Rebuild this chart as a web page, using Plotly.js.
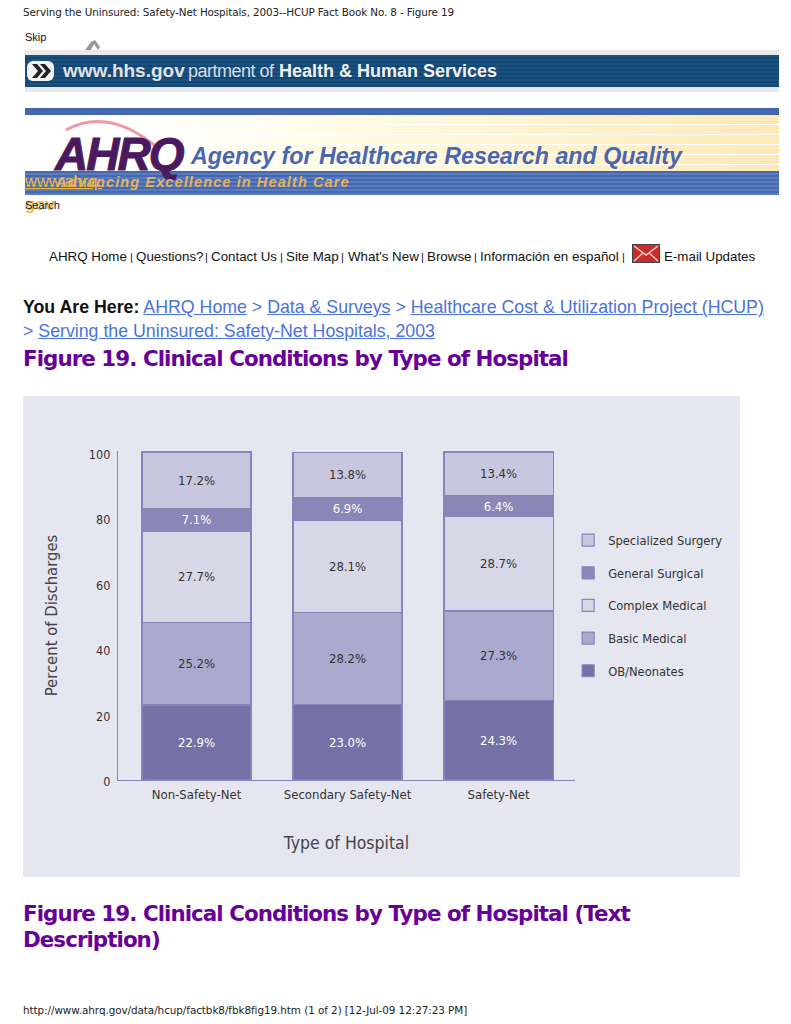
<!DOCTYPE html>
<html><head><meta charset="utf-8">
<script src="https://cdn.plot.ly/plotly-3.0.1.min.js"></script>
<style>
html,body{margin:0;padding:0;background:#fff;width:791px;height:1024px;overflow:hidden}
.t{position:absolute;white-space:nowrap;line-height:1}
.v{font-family:"DejaVu Sans",sans-serif;color:#222}
.a{font-family:"Liberation Sans",Arial,sans-serif;color:#111}
.n{font-size:13.35px;top:250px}
.p{font-size:11px;top:252px}
.b{position:absolute}
a,.l{color:#4a72e0}
a{text-decoration:underline}
.h{font-family:"DejaVu Sans",sans-serif;font-weight:bold;color:#660099;font-size:21.4px;letter-spacing:-.95px}
</style></head><body>
<div class="t v" style="left:23px;top:7px;font-size:10.4px;letter-spacing:-.12px">Serving the Uninsured: Safety-Net Hospitals, 2003--HCUP Fact Book No. 8 - Figure 19</div>
<div class="t a" style="left:25px;top:32px;font-size:11px">Skip</div>
<svg class="b" style="left:83px;top:39px" width="20" height="12"><path d="M2 11 L8 3 L12 1 L17 8 L15 11 L11 5 L8 11Z" fill="#999"/></svg>
<div class="b" style="left:25px;top:50px;width:754px;height:42px;background:#e9e9e9"></div>
<div class="b" style="left:25px;top:55px;width:754px;height:32px;background:repeating-linear-gradient(#1a5282 0 2px,#134673 2px 4px)"></div>
<svg class="b" style="left:27px;top:60px" width="28" height="22"><rect x="0" y="1" width="27" height="20" rx="6" fill="#f2f2f2"/><path d="M5 4h5l6 7-6 7H5l6-7zM13 4h5l6 7-6 7h-5l6-7z" fill="#222"/></svg>
<div class="t a" style="left:63px;top:61px;font-size:19px;font-weight:bold;color:#e2e2e2">www.hhs.gov</div>
<div class="t a" style="left:188px;top:62px;font-size:18px;color:#d8dde4;letter-spacing:-.5px">partment of</div>
<div class="t a" style="left:279px;top:62px;font-size:18px;font-weight:bold;color:#f1f1f1">Health &amp; Human Services</div>
<div class="b" style="left:25px;top:108px;width:754px;height:7px;background:#4467ae"></div>
<div class="b" style="left:25px;top:115px;width:754px;height:56px;background:repeating-linear-gradient(rgba(255,255,255,0) 0 9px,#fff 9px 10px),linear-gradient(90deg,#fff 0,#fff 15%,#fffbe0 45%,#ffe9b5 100%)"></div>
<div class="b" style="left:25px;top:171px;width:754px;height:24px;background:repeating-linear-gradient(#4468b0 0 2px,#5b7dc0 2px 4px)"></div>
<svg class="b" style="left:60px;top:112px" width="130" height="60"><path d="M6 18 Q50 -6 100 38" fill="none" stroke="#ee9aa5" stroke-width="3"/></svg>
<div class="t a" style="left:55px;top:131px;font-size:46px;font-weight:bold;font-style:italic;color:#4b1a5e;letter-spacing:-2px;-webkit-text-stroke:1px #4b1a5e">AHRQ</div>
<div class="t a" style="left:191px;top:145px;font-size:23.25px;font-weight:bold;font-style:italic;color:#4a66b0">Agency for Healthcare Research and Quality</div>
<div class="t a" style="left:56px;top:175px;font-size:14.6px;font-weight:bold;font-style:italic;color:#e4b35c;letter-spacing:1.07px">Advancing Excellence in Health Care</div>
<div class="t a" style="left:25px;top:173px;font-size:16.5px;color:#f0b840;text-decoration:underline">www.ahrq.</div>
<div class="t a" style="left:25px;top:196px;font-size:16.5px;color:#f0b840;font-weight:bold">gov</div>
<div class="t a" style="left:25px;top:200px;font-size:11px">Search</div>
<div class="t a n" style="left:49px">AHRQ Home</div>
<div class="t a p" style="left:130px">|</div>
<div class="t a n" style="left:136px">Questions?</div>
<div class="t a p" style="left:205px">|</div>
<div class="t a n" style="left:211px">Contact Us</div>
<div class="t a p" style="left:280px">|</div>
<div class="t a n" style="left:286px">Site Map</div>
<div class="t a p" style="left:341px">|</div>
<div class="t a n" style="left:348px">What's New</div>
<div class="t a p" style="left:421px">|</div>
<div class="t a n" style="left:427px">Browse</div>
<div class="t a p" style="left:474px">|</div>
<div class="t a n" style="left:480px">Información en español</div>
<div class="t a p" style="left:622px">|</div>
<svg class="b" style="left:632px;top:244px" width="28" height="19"><rect x=".5" y=".5" width="27" height="18" fill="#c92a2a" stroke="#444"/><path d="M2 2l12 9 12-9M2 17l9-8M26 17l-9-8" fill="none" stroke="#f3d0d0" stroke-width="1.4"/></svg>
<div class="t a n" style="left:664px">E-mail Updates</div>
<div class="t a" style="left:23px;top:299px;font-size:17.75px"><b style="color:#111">You Are Here:</b> <a>AHRQ Home</a> <span class="l">&gt;</span> <a>Data &amp; Surveys</a> <span class="l">&gt;</span> <a>Healthcare Cost &amp; Utilization Project (HCUP)</a></div>
<div class="t a" style="left:23px;top:323px;font-size:17.75px"><span class="l">&gt;</span> <a>Serving the Uninsured: Safety-Net Hospitals, 2003</a></div>
<div class="t h" style="left:23px;top:348px">Figure 19. Clinical Conditions by Type of Hospital</div>
<div id="chart" class="b" style="left:23px;top:396px;width:717px;height:481px"></div>
<div class="t h" style="left:23px;top:903px">Figure 19. Clinical Conditions by Type of Hospital (Text</div>
<div class="t h" style="left:23px;top:929px">Description)</div>
<div class="t v" style="left:23px;top:1005px;font-size:10.4px;letter-spacing:-.06px">http://www.ahrq.gov/data/hcup/factbk8/fbk8fig19.htm (1 of 2) [12-Jul-09 12:27:23 PM]</div>
<script>
const categories = ["Non-Safety-Net", "Secondary Safety-Net", "Safety-Net"];
const obNeonates = [22.9, 23.0, 24.3];
const basicMedical = [25.2, 28.2, 27.3];
const complexMedical = [27.7, 28.1, 28.7];
const generalSurgical = [7.1, 6.9, 6.4];
const specializedSurgery = [17.2, 13.8, 13.4];
const yTicks = [0, 20, 40, 60, 80, 100];

const chartFont = '"DejaVu Sans Condensed","DejaVu Sans",sans-serif';
const outline = '#8684b9';
function series(name, values, fill, textColor, rank) {
  return {
    type: 'bar', name: name, x: categories, y: values, legendgroup: name, legendrank: rank,
    text: values.map(v => v.toFixed(1) + '%'),
    textposition: 'inside', insidetextanchor: 'middle', textangle: 0, constraintext: 'none',
    textfont: {family: chartFont, size: 13, color: textColor},
    marker: {color: fill, line: {color: outline, width: 1.2}},
    hoverinfo: 'name+text'
  };
}
const traces = [
  series('OB/Neonates', obNeonates, '#7371a6', '#ffffff', 5),
  series('Basic Medical', basicMedical, '#aca9ce', '#333333', 4),
  series('Complex Medical', complexMedical, '#d8d7e7', '#333333', 3),
  series('General Surgical', generalSurgical, '#8a86b7', '#ffffff', 2),
  series('Specialized Surgery', specializedSurgery, '#c9c7e0', '#333333', 1)
];
const layout = {
  width: 717, height: 481, barmode: 'stack', bargap: 0.278,
  margin: {l: 95, r: 165, t: 55, b: 97},
  paper_bgcolor: '#e6e6f0', plot_bgcolor: '#e6e6f0',
  font: {family: chartFont, size: 12, color: '#333'},
  xaxis: {
    type: 'category', range: [-0.52, 2.506], showgrid: false, zeroline: false,
    showline: true, linecolor: '#8684c0', linewidth: 1.4, ticks: 'outside', ticklen: 2, tickcolor: 'rgba(0,0,0,0)',
    tickfont: {size: 13, color: '#333'},
    title: {text: 'Type of Hospital', font: {size: 17.5, color: '#444'}, standoff: 35}
  },
  yaxis: {
    range: [0, 100.4], tickvals: yTicks, showgrid: false, zeroline: false, ticklabelshift: 2,
    showline: true, linecolor: '#8684c0', linewidth: 1.4, ticks: 'outside', ticklen: 4, tickcolor: 'rgba(0,0,0,0)',
    tickfont: {size: 12.5, color: '#333'},
    title: {text: 'Percent of Discharges', font: {size: 16.5, color: '#444'}, standoff: 27}
  },
  showlegend: true,
  legend: {
    traceorder: 'grouped', tracegroupgap: 13, x: 0.985, xanchor: 'left', y: 0.774, yanchor: 'top',
    bgcolor: 'rgba(0,0,0,0)', font: {size: 12.8, color: '#333'}
  }
};
Plotly.newPlot('chart', traces, layout, {displayModeBar: false, responsive: false});
</script>
</body></html>
